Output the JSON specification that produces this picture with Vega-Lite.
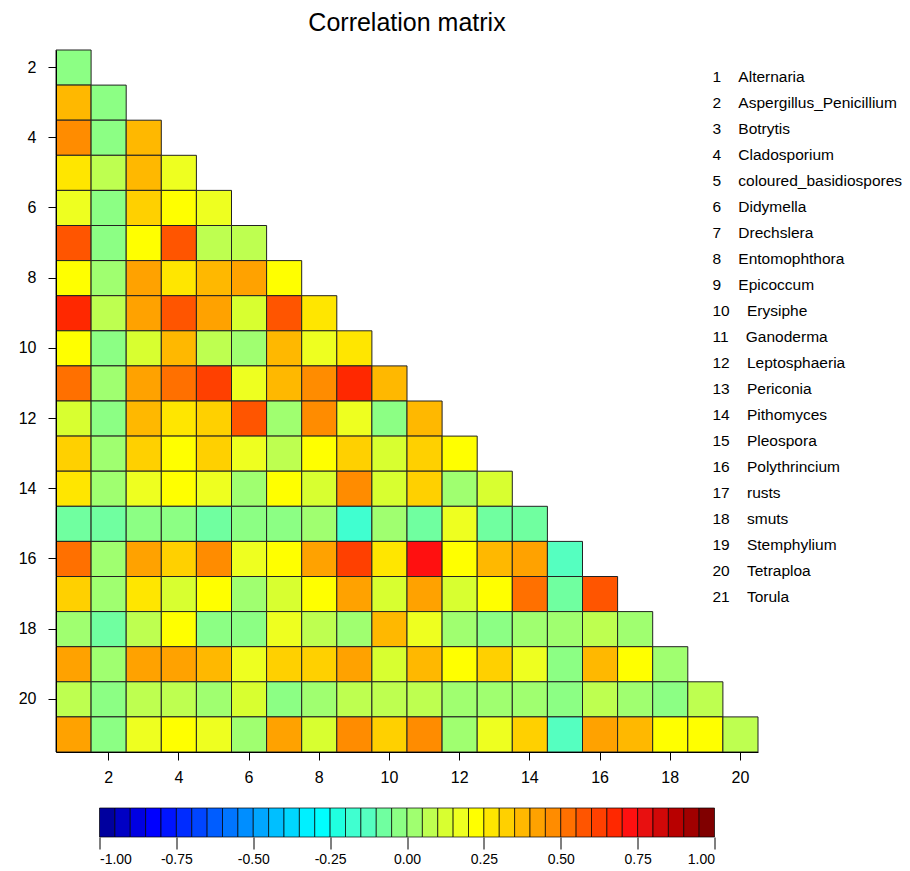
{
  "$schema": "https://vega.github.io/schema/vega-lite/v6.json",
  "background": "white",
  "padding": {"left": 18, "top": 10, "right": 5, "bottom": 5},
  "bounds": "flush",
  "center": true,
  "spacing": 56,
  "config": {
    "view": {"stroke": null},
    "font": "Liberation Sans",
    "axis": {"labelFont": "Liberation Sans", "labelColor": "black", "tickColor": "black", "domainColor": "black", "grid": false, "title": null},
    "title": {"font": "Liberation Sans", "fontSize": 25, "fontWeight": "normal", "color": "black"}
  },
  "datasets": {
    "cells": [
      {"row": 2, "col": 1, "r": -0.02},
      {"row": 3, "col": 1, "r": 0.37}, {"row": 3, "col": 2, "r": -0.02},
      {"row": 4, "col": 1, "r": 0.47}, {"row": 4, "col": 2, "r": -0.02}, {"row": 4, "col": 3, "r": 0.37},
      {"row": 5, "col": 1, "r": 0.27}, {"row": 5, "col": 2, "r": 0.07}, {"row": 5, "col": 3, "r": 0.37}, {"row": 5, "col": 4, "r": 0.17},
      {"row": 6, "col": 1, "r": 0.17}, {"row": 6, "col": 2, "r": -0.02}, {"row": 6, "col": 3, "r": 0.32}, {"row": 6, "col": 4, "r": 0.22}, {"row": 6, "col": 5, "r": 0.17},
      {"row": 7, "col": 1, "r": 0.57}, {"row": 7, "col": 2, "r": -0.02}, {"row": 7, "col": 3, "r": 0.22}, {"row": 7, "col": 4, "r": 0.57}, {"row": 7, "col": 5, "r": 0.07}, {"row": 7, "col": 6, "r": 0.07},
      {"row": 8, "col": 1, "r": 0.22}, {"row": 8, "col": 2, "r": 0.02}, {"row": 8, "col": 3, "r": 0.42}, {"row": 8, "col": 4, "r": 0.27}, {"row": 8, "col": 5, "r": 0.37}, {"row": 8, "col": 6, "r": 0.42}, {"row": 8, "col": 7, "r": 0.22},
      {"row": 9, "col": 1, "r": 0.67}, {"row": 9, "col": 2, "r": 0.07}, {"row": 9, "col": 3, "r": 0.42}, {"row": 9, "col": 4, "r": 0.57}, {"row": 9, "col": 5, "r": 0.42}, {"row": 9, "col": 6, "r": 0.12}, {"row": 9, "col": 7, "r": 0.57}, {"row": 9, "col": 8, "r": 0.27},
      {"row": 10, "col": 1, "r": 0.22}, {"row": 10, "col": 2, "r": -0.02}, {"row": 10, "col": 3, "r": 0.12}, {"row": 10, "col": 4, "r": 0.37}, {"row": 10, "col": 5, "r": 0.07}, {"row": 10, "col": 6, "r": 0.02}, {"row": 10, "col": 7, "r": 0.37}, {"row": 10, "col": 8, "r": 0.17}, {"row": 10, "col": 9, "r": 0.27},
      {"row": 11, "col": 1, "r": 0.52}, {"row": 11, "col": 2, "r": 0.02}, {"row": 11, "col": 3, "r": 0.42}, {"row": 11, "col": 4, "r": 0.52}, {"row": 11, "col": 5, "r": 0.62}, {"row": 11, "col": 6, "r": 0.17}, {"row": 11, "col": 7, "r": 0.37}, {"row": 11, "col": 8, "r": 0.47}, {"row": 11, "col": 9, "r": 0.67}, {"row": 11, "col": 10, "r": 0.37},
      {"row": 12, "col": 1, "r": 0.12}, {"row": 12, "col": 2, "r": -0.02}, {"row": 12, "col": 3, "r": 0.37}, {"row": 12, "col": 4, "r": 0.27}, {"row": 12, "col": 5, "r": 0.32}, {"row": 12, "col": 6, "r": 0.57}, {"row": 12, "col": 7, "r": 0.02}, {"row": 12, "col": 8, "r": 0.47}, {"row": 12, "col": 9, "r": 0.17}, {"row": 12, "col": 10, "r": -0.02}, {"row": 12, "col": 11, "r": 0.37},
      {"row": 13, "col": 1, "r": 0.3}, {"row": 13, "col": 2, "r": 0.02}, {"row": 13, "col": 3, "r": 0.32}, {"row": 13, "col": 4, "r": 0.22}, {"row": 13, "col": 5, "r": 0.32}, {"row": 13, "col": 6, "r": 0.17}, {"row": 13, "col": 7, "r": 0.07}, {"row": 13, "col": 8, "r": 0.22}, {"row": 13, "col": 9, "r": 0.32}, {"row": 13, "col": 10, "r": 0.12}, {"row": 13, "col": 11, "r": 0.32}, {"row": 13, "col": 12, "r": 0.22},
      {"row": 14, "col": 1, "r": 0.27}, {"row": 14, "col": 2, "r": 0.02}, {"row": 14, "col": 3, "r": 0.17}, {"row": 14, "col": 4, "r": 0.22}, {"row": 14, "col": 5, "r": 0.17}, {"row": 14, "col": 6, "r": 0.02}, {"row": 14, "col": 7, "r": 0.22}, {"row": 14, "col": 8, "r": 0.12}, {"row": 14, "col": 9, "r": 0.47}, {"row": 14, "col": 10, "r": 0.12}, {"row": 14, "col": 11, "r": 0.32}, {"row": 14, "col": 12, "r": 0.02}, {"row": 14, "col": 13, "r": 0.12},
      {"row": 15, "col": 1, "r": -0.07}, {"row": 15, "col": 2, "r": -0.07}, {"row": 15, "col": 3, "r": -0.02}, {"row": 15, "col": 4, "r": -0.02}, {"row": 15, "col": 5, "r": -0.07}, {"row": 15, "col": 6, "r": -0.02}, {"row": 15, "col": 7, "r": -0.03}, {"row": 15, "col": 8, "r": 0.02}, {"row": 15, "col": 9, "r": -0.17}, {"row": 15, "col": 10, "r": 0.02}, {"row": 15, "col": 11, "r": -0.07}, {"row": 15, "col": 12, "r": 0.17}, {"row": 15, "col": 13, "r": -0.07}, {"row": 15, "col": 14, "r": -0.07},
      {"row": 16, "col": 1, "r": 0.52}, {"row": 16, "col": 2, "r": 0.02}, {"row": 16, "col": 3, "r": 0.42}, {"row": 16, "col": 4, "r": 0.32}, {"row": 16, "col": 5, "r": 0.47}, {"row": 16, "col": 6, "r": 0.17}, {"row": 16, "col": 7, "r": 0.22}, {"row": 16, "col": 8, "r": 0.42}, {"row": 16, "col": 9, "r": 0.62}, {"row": 16, "col": 10, "r": 0.27}, {"row": 16, "col": 11, "r": 0.72}, {"row": 16, "col": 12, "r": 0.22}, {"row": 16, "col": 13, "r": 0.37}, {"row": 16, "col": 14, "r": 0.42}, {"row": 16, "col": 15, "r": -0.12},
      {"row": 17, "col": 1, "r": 0.32}, {"row": 17, "col": 2, "r": 0.02}, {"row": 17, "col": 3, "r": 0.27}, {"row": 17, "col": 4, "r": 0.12}, {"row": 17, "col": 5, "r": 0.22}, {"row": 17, "col": 6, "r": 0.02}, {"row": 17, "col": 7, "r": 0.12}, {"row": 17, "col": 8, "r": 0.22}, {"row": 17, "col": 9, "r": 0.42}, {"row": 17, "col": 10, "r": 0.12}, {"row": 17, "col": 11, "r": 0.42}, {"row": 17, "col": 12, "r": 0.12}, {"row": 17, "col": 13, "r": 0.22}, {"row": 17, "col": 14, "r": 0.52}, {"row": 17, "col": 15, "r": -0.08}, {"row": 17, "col": 16, "r": 0.57},
      {"row": 18, "col": 1, "r": 0.02}, {"row": 18, "col": 2, "r": -0.07}, {"row": 18, "col": 3, "r": 0.07}, {"row": 18, "col": 4, "r": 0.22}, {"row": 18, "col": 5, "r": -0.02}, {"row": 18, "col": 6, "r": -0.02}, {"row": 18, "col": 7, "r": 0.17}, {"row": 18, "col": 8, "r": 0.07}, {"row": 18, "col": 9, "r": 0.03}, {"row": 18, "col": 10, "r": 0.37}, {"row": 18, "col": 11, "r": 0.17}, {"row": 18, "col": 12, "r": 0.02}, {"row": 18, "col": 13, "r": -0.02}, {"row": 18, "col": 14, "r": 0.02}, {"row": 18, "col": 15, "r": 0.02}, {"row": 18, "col": 16, "r": 0.07}, {"row": 18, "col": 17, "r": 0.02},
      {"row": 19, "col": 1, "r": 0.42}, {"row": 19, "col": 2, "r": 0.02}, {"row": 19, "col": 3, "r": 0.42}, {"row": 19, "col": 4, "r": 0.43}, {"row": 19, "col": 5, "r": 0.37}, {"row": 19, "col": 6, "r": 0.17}, {"row": 19, "col": 7, "r": 0.32}, {"row": 19, "col": 8, "r": 0.32}, {"row": 19, "col": 9, "r": 0.42}, {"row": 19, "col": 10, "r": 0.12}, {"row": 19, "col": 11, "r": 0.37}, {"row": 19, "col": 12, "r": 0.22}, {"row": 19, "col": 13, "r": 0.32}, {"row": 19, "col": 14, "r": 0.17}, {"row": 19, "col": 15, "r": -0.02}, {"row": 19, "col": 16, "r": 0.37}, {"row": 19, "col": 17, "r": 0.22}, {"row": 19, "col": 18, "r": 0.02},
      {"row": 20, "col": 1, "r": 0.07}, {"row": 20, "col": 2, "r": -0.02}, {"row": 20, "col": 3, "r": 0.07}, {"row": 20, "col": 4, "r": 0.07}, {"row": 20, "col": 5, "r": 0.02}, {"row": 20, "col": 6, "r": 0.12}, {"row": 20, "col": 7, "r": -0.02}, {"row": 20, "col": 8, "r": 0.03}, {"row": 20, "col": 9, "r": 0.07}, {"row": 20, "col": 10, "r": 0.07}, {"row": 20, "col": 11, "r": 0.07}, {"row": 20, "col": 12, "r": 0.03}, {"row": 20, "col": 13, "r": 0.02}, {"row": 20, "col": 14, "r": 0.02}, {"row": 20, "col": 15, "r": -0.02}, {"row": 20, "col": 16, "r": 0.07}, {"row": 20, "col": 17, "r": 0.02}, {"row": 20, "col": 18, "r": -0.02}, {"row": 20, "col": 19, "r": 0.07},
      {"row": 21, "col": 1, "r": 0.42}, {"row": 21, "col": 2, "r": -0.02}, {"row": 21, "col": 3, "r": 0.17}, {"row": 21, "col": 4, "r": 0.22}, {"row": 21, "col": 5, "r": 0.17}, {"row": 21, "col": 6, "r": 0.02}, {"row": 21, "col": 7, "r": 0.44}, {"row": 21, "col": 8, "r": 0.12}, {"row": 21, "col": 9, "r": 0.47}, {"row": 21, "col": 10, "r": 0.32}, {"row": 21, "col": 11, "r": 0.47}, {"row": 21, "col": 12, "r": 0.02}, {"row": 21, "col": 13, "r": 0.17}, {"row": 21, "col": 14, "r": 0.32}, {"row": 21, "col": 15, "r": -0.12}, {"row": 21, "col": 16, "r": 0.44}, {"row": 21, "col": 17, "r": 0.37}, {"row": 21, "col": 18, "r": 0.22}, {"row": 21, "col": 19, "r": 0.22}, {"row": 21, "col": 20, "r": 0.07}
    ],
    "names": [
      {"num": 1, "label": "1 Alternaria"},
      {"num": 2, "label": "2 Aspergillus_Penicillium"},
      {"num": 3, "label": "3 Botrytis"},
      {"num": 4, "label": "4 Cladosporium"},
      {"num": 5, "label": "5 coloured_basidiospores"},
      {"num": 6, "label": "6 Didymella"},
      {"num": 7, "label": "7 Drechslera"},
      {"num": 8, "label": "8 Entomophthora"},
      {"num": 9, "label": "9 Epicoccum"},
      {"num": 10, "label": "10 Erysiphe"},
      {"num": 11, "label": "11 Ganoderma"},
      {"num": 12, "label": "12 Leptosphaeria"},
      {"num": 13, "label": "13 Periconia"},
      {"num": 14, "label": "14 Pithomyces"},
      {"num": 15, "label": "15 Pleospora"},
      {"num": 16, "label": "16 Polythrincium"},
      {"num": 17, "label": "17 rusts"},
      {"num": 18, "label": "18 smuts"},
      {"num": 19, "label": "19 Stemphylium"},
      {"num": 20, "label": "20 Tetraploa"},
      {"num": 21, "label": "21 Torula"}
    ],
    "bins": [
      {"lo": -1.0, "hi": -0.95, "mid": -0.975}, {"lo": -0.95, "hi": -0.9, "mid": -0.925},
      {"lo": -0.9, "hi": -0.85, "mid": -0.875}, {"lo": -0.85, "hi": -0.8, "mid": -0.825},
      {"lo": -0.8, "hi": -0.75, "mid": -0.775}, {"lo": -0.75, "hi": -0.7, "mid": -0.725},
      {"lo": -0.7, "hi": -0.65, "mid": -0.675}, {"lo": -0.65, "hi": -0.6, "mid": -0.625},
      {"lo": -0.6, "hi": -0.55, "mid": -0.575}, {"lo": -0.55, "hi": -0.5, "mid": -0.525},
      {"lo": -0.5, "hi": -0.45, "mid": -0.475}, {"lo": -0.45, "hi": -0.4, "mid": -0.425},
      {"lo": -0.4, "hi": -0.35, "mid": -0.375}, {"lo": -0.35, "hi": -0.3, "mid": -0.325},
      {"lo": -0.3, "hi": -0.25, "mid": -0.275}, {"lo": -0.25, "hi": -0.2, "mid": -0.225},
      {"lo": -0.2, "hi": -0.15, "mid": -0.175}, {"lo": -0.15, "hi": -0.1, "mid": -0.125},
      {"lo": -0.1, "hi": -0.05, "mid": -0.075}, {"lo": -0.05, "hi": 0.0, "mid": -0.025},
      {"lo": 0.0, "hi": 0.05, "mid": 0.025}, {"lo": 0.05, "hi": 0.1, "mid": 0.075},
      {"lo": 0.1, "hi": 0.15, "mid": 0.125}, {"lo": 0.15, "hi": 0.2, "mid": 0.175},
      {"lo": 0.2, "hi": 0.25, "mid": 0.225}, {"lo": 0.25, "hi": 0.3, "mid": 0.275},
      {"lo": 0.3, "hi": 0.35, "mid": 0.325}, {"lo": 0.35, "hi": 0.4, "mid": 0.375},
      {"lo": 0.4, "hi": 0.45, "mid": 0.425}, {"lo": 0.45, "hi": 0.5, "mid": 0.475},
      {"lo": 0.5, "hi": 0.55, "mid": 0.525}, {"lo": 0.55, "hi": 0.6, "mid": 0.575},
      {"lo": 0.6, "hi": 0.65, "mid": 0.625}, {"lo": 0.65, "hi": 0.7, "mid": 0.675},
      {"lo": 0.7, "hi": 0.75, "mid": 0.725}, {"lo": 0.75, "hi": 0.8, "mid": 0.775},
      {"lo": 0.8, "hi": 0.85, "mid": 0.825}, {"lo": 0.85, "hi": 0.9, "mid": 0.875},
      {"lo": 0.9, "hi": 0.95, "mid": 0.925}, {"lo": 0.95, "hi": 1.0, "mid": 0.975}
    ]
  },
  "vconcat": [
    {
      "title": {"text": "Correlation matrix", "offset": 14, "anchor": "middle"},
      "width": 702,
      "height": 702,
      "layer": [
        {
          "data": {"name": "cells"},
          "mark": {"type": "rect", "stroke": "#222222", "strokeWidth": 1},
          "encoding": {
            "x": {"field": "col", "type": "ordinal",
                  "scale": {"domain": [1,2,3,4,5,6,7,8,9,10,11,12,13,14,15,16,17,18,19,20], "paddingInner": 0, "paddingOuter": 0},
                  "axis": {"values": [2,4,6,8,10,12,14,16,18,20], "labelAngle": 0, "tickSize": 8, "labelPadding": 9, "labelFontSize": 16}},
            "y": {"field": "row", "type": "ordinal",
                  "scale": {"domain": [2,3,4,5,6,7,8,9,10,11,12,13,14,15,16,17,18,19,20,21], "paddingInner": 0, "paddingOuter": 0},
                  "axis": {"values": [2,4,6,8,10,12,14,16,18,20], "tickSize": 8, "labelPadding": 12, "labelFontSize": 16}},
            "color": {"field": "r", "type": "quantitative",
                      "scale": {"type": "quantize", "domain": [-1, 1], "nice": false, "zero": false,
                                "range": ["#00009E","#0000C4","#0000E2","#0000FF","#0014FF","#002CFF","#0045FF","#005DFF","#0075FF","#008EFF",
                                          "#00A6FF","#00BFFF","#00D7FF","#00F0FF","#00FFFF","#20FFE0","#40FFD0","#55FFC0","#70FFA0","#8CFF84",
                                          "#A0FF70","#BEFF50","#D8FF30","#EEFF20","#FFFF00","#FFE600","#FFD000","#FFB800","#FFA200","#FF8C00",
                                          "#FF7000","#FF5500","#FF4000","#FF2800","#FF1010","#E81010","#D00808","#B80000","#A00000","#800000"]},
                      "legend": null}
          }
        },
        {
          "data": {"name": "names"},
          "mark": {"type": "point", "opacity": 0},
          "encoding": {
            "shape": {"field": "label", "type": "nominal", "sort": {"field": "num", "op": "min"},
                      "legend": {"title": null, "orient": "none", "legendX": 641, "legendY": 19, "direction": "vertical", "columns": 1,
                                 "symbolOpacity": 0, "symbolSize": 0, "symbolStrokeWidth": 0, "padding": 0,
                                 "labelFont": "Liberation Sans", "labelFontSize": 15.5, "labelColor": "black", "labelOffset": 0,
                                 "labelLimit": 400, "rowPadding": 9,
                                 "labelExpr": "replace(datum.label, ' ', '\u00a0\u00a0\u00a0\u00a0')"}}
          }
        }
      ]
    },
    {
      "width": 615,
      "height": 29,
      "data": {"name": "bins"},
      "mark": {"type": "rect", "stroke": "#000000", "strokeOpacity": 0.7, "strokeWidth": 1},
      "encoding": {
        "x": {"field": "lo", "type": "quantitative", "scale": {"domain": [-1, 1], "nice": false, "zero": false},
              "axis": {"values": [-1, -0.75, -0.5, -0.25, 0, 0.25, 0.5, 0.75, 1], "format": ".2f", "domain": false, "tickSize": 12, "labelPadding": 3, "labelFontSize": 14,
                       "labelExpr": "replace(datum.label, '\u2212', '-')"}},
        "x2": {"field": "hi"},
        "color": {"field": "mid", "type": "quantitative",
                  "scale": {"type": "quantize", "domain": [-1, 1], "nice": false, "zero": false,
                            "range": ["#00009E","#0000C4","#0000E2","#0000FF","#0014FF","#002CFF","#0045FF","#005DFF","#0075FF","#008EFF",
                                      "#00A6FF","#00BFFF","#00D7FF","#00F0FF","#00FFFF","#20FFE0","#40FFD0","#55FFC0","#70FFA0","#8CFF84",
                                      "#A0FF70","#BEFF50","#D8FF30","#EEFF20","#FFFF00","#FFE600","#FFD000","#FFB800","#FFA200","#FF8C00",
                                      "#FF7000","#FF5500","#FF4000","#FF2800","#FF1010","#E81010","#D00808","#B80000","#A00000","#800000"]},
                  "legend": null}
      }
    }
  ]
}
